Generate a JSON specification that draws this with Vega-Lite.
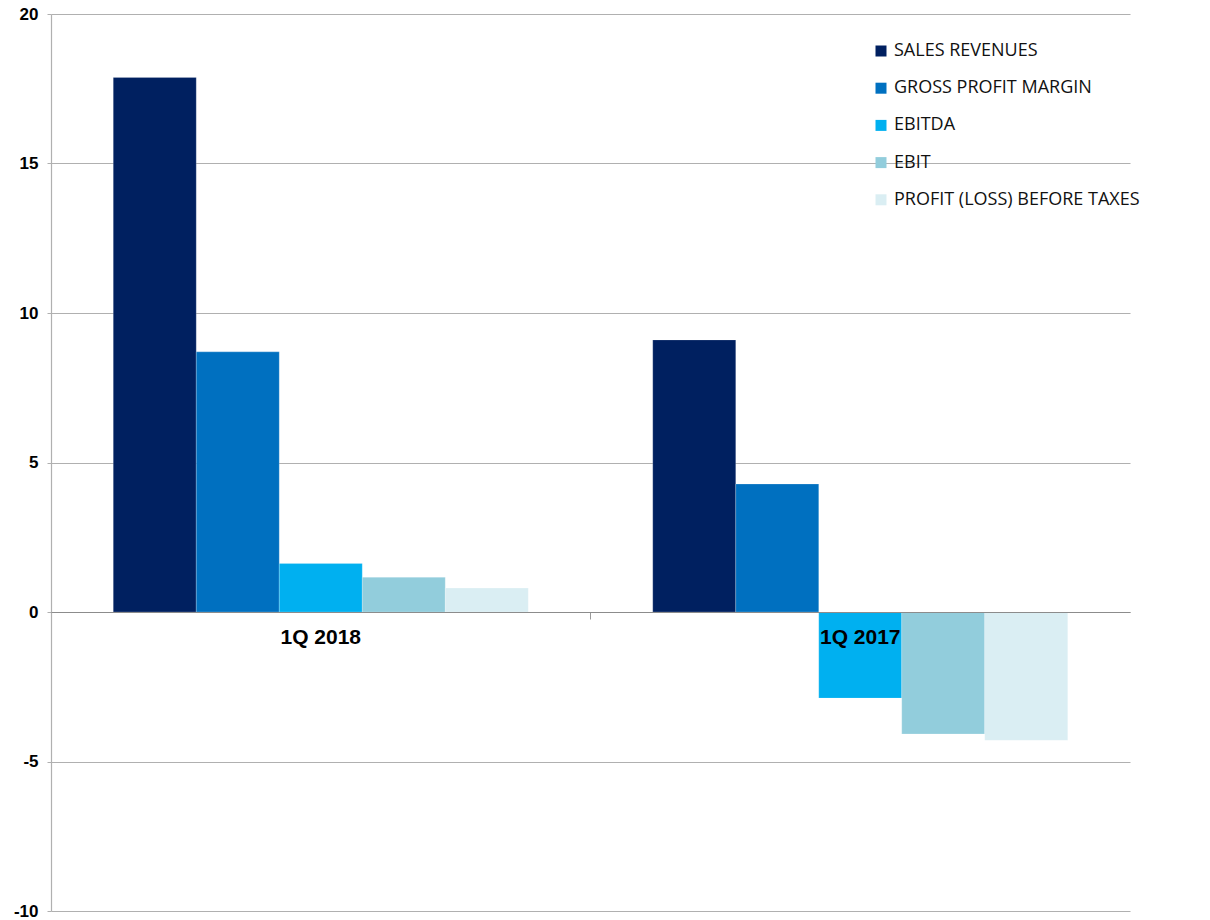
{
  "$schema": "https://vega.github.io/schema/vega-lite/v6.json",
  "autosize": "none",
  "width": 1079,
  "height": 897,
  "padding": {"left": 51, "top": 14, "right": 80, "bottom": 9},
  "background": "white",
  "config": {"view": {"stroke": null}},
  "data": {
    "values": [
      {"period": "1Q 2018", "metric": "SALES REVENUES", "value": 17.88},
      {"period": "1Q 2018", "metric": "GROSS PROFIT MARGIN", "value": 8.7},
      {"period": "1Q 2018", "metric": "EBITDA", "value": 1.62},
      {"period": "1Q 2018", "metric": "EBIT", "value": 1.16},
      {"period": "1Q 2018", "metric": "PROFIT (LOSS) BEFORE TAXES", "value": 0.8},
      {"period": "1Q 2017", "metric": "SALES REVENUES", "value": 9.1},
      {"period": "1Q 2017", "metric": "GROSS PROFIT MARGIN", "value": 4.28},
      {"period": "1Q 2017", "metric": "EBITDA", "value": -2.88},
      {"period": "1Q 2017", "metric": "EBIT", "value": -4.08},
      {"period": "1Q 2017", "metric": "PROFIT (LOSS) BEFORE TAXES", "value": -4.29}
    ]
  },
  "layer": [
    {
      "mark": {"type": "bar", "stroke": "#ffffff", "strokeOpacity": 0.25, "strokeWidth": 0.8},
      "encoding": {
        "x": {
          "field": "period",
          "type": "nominal",
          "sort": ["1Q 2018", "1Q 2017"],
          "scale": {"paddingInner": 0, "paddingOuter": 0},
          "axis": {
            "title": null,
            "orient": "bottom",
            "offset": -299,
            "zindex": 2,
            "domainColor": "#8c8c8c",
            "domainWidth": 1.2,
            "ticks": false,
            "tickSize": 0,
            "labelAngle": 0,
            "labelFont": "Liberation Sans",
            "labelFontWeight": "bold",
            "labelFontSize": 21,
            "labelColor": "#000000",
            "labelPadding": 14,
            "labelOverlap": false,
            "grid": false
          }
        },
        "xOffset": {
          "field": "metric",
          "type": "nominal",
          "sort": ["SALES REVENUES", "GROSS PROFIT MARGIN", "EBITDA", "EBIT", "PROFIT (LOSS) BEFORE TAXES"],
          "scale": {"paddingInner": 0, "paddingOuter": 0.75}
        },
        "y": {
          "field": "value",
          "type": "quantitative",
          "scale": {"domain": [-10, 20], "nice": false, "zero": false},
          "axis": {
            "title": null,
            "values": [-10, -5, 0, 5, 10, 15, 20],
            "labelExpr": "'' + datum.value",
            "grid": true,
            "gridColor": "#b0b0b0",
            "gridWidth": 1.2,
            "domainColor": "#b0b0b0",
            "domainWidth": 1.2,
            "tickColor": "#b0b0b0",
            "tickSize": 4,
            "labelFont": "Liberation Sans",
            "labelFontWeight": "bold",
            "labelFontSize": 17,
            "labelColor": "#000000",
            "labelPadding": 9
          }
        },
        "color": {
          "field": "metric",
          "type": "nominal",
          "sort": ["SALES REVENUES", "GROSS PROFIT MARGIN", "EBITDA", "EBIT", "PROFIT (LOSS) BEFORE TAXES"],
          "scale": {
            "domain": ["SALES REVENUES", "GROSS PROFIT MARGIN", "EBITDA", "EBIT", "PROFIT (LOSS) BEFORE TAXES"],
            "range": ["#002060", "#0070C0", "#00B0F0", "#92CDDC", "#DAEEF3"]
          },
          "legend": {
            "title": null,
            "orient": "none",
            "legendX": 821,
            "legendY": 28,
            "padding": 0,
            "symbolType": "square",
            "symbolSize": 121,
            "symbolStrokeWidth": 0,
            "labelFont": "Open Sans",
            "labelFontSize": 18,
            "labelColor": "#111111",
            "labelOffset": 4,
            "rowPadding": 19.2,
            "labelLimit": 400
          }
        }
      }
    },
    {
      "mark": {"type": "bar", "opacity": 0},
      "encoding": {
        "x": {
          "field": "period",
          "type": "nominal",
          "sort": ["1Q 2018", "1Q 2017"],
          "axis": {
            "title": null,
            "orient": "bottom",
            "offset": -299,
            "domain": false,
            "labels": false,
            "ticks": true,
            "tickSize": 7,
            "tickColor": "#9a9a9a",
            "bandPosition": 0,
            "grid": false
          }
        },
        "y": {"datum": 0, "type": "quantitative"}
      }
    }
  ],
  "resolve": {"axis": {"x": "independent"}}
}
